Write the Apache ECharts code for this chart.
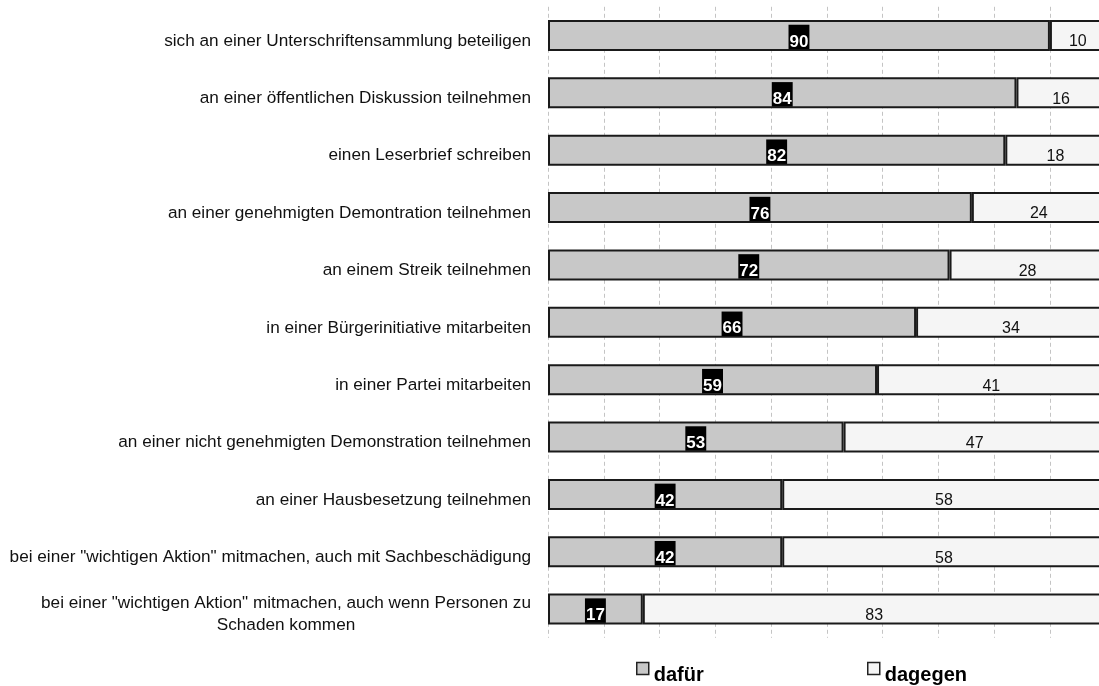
<!DOCTYPE html>
<html>
<head>
<meta charset="utf-8">
<script src="https://cdn.jsdelivr.net/npm/echarts@6/dist/echarts.min.js"></script>
<style>
  html, body { margin: 0; padding: 0; background: #fff; }
  #chart { width: 1099px; height: 686px; }
</style>
</head>
<body>
<div id="chart"></div>
<script>
// Formen politischer Beteiligung: Zustimmung vs. Ablehnung (in Prozent)
const categories = [
  'sich an einer Unterschriftensammlung beteiligen',
  'an einer öffentlichen Diskussion teilnehmen',
  'einen Leserbrief schreiben',
  'an einer genehmigten Demontration teilnehmen',
  'an einem Streik teilnehmen',
  'in einer Bürgerinitiative mitarbeiten',
  'in einer Partei mitarbeiten',
  'an einer nicht genehmigten Demonstration teilnehmen',
  'an einer Hausbesetzung teilnehmen',
  'bei einer "wichtigen Aktion" mitmachen, auch mit Sachbeschädigung',
  'bei einer "wichtigen Aktion" mitmachen, auch wenn Personen zu\nSchaden kommen'
];
const dafuer = [90, 84, 82, 76, 72, 66, 59, 53, 42, 42, 17];
const dagegen = [10, 16, 18, 24, 28, 34, 41, 47, 58, 58, 83];
const seriesNames = ['dafür', 'dagegen'];

const FONT = '"Liberation Sans", Arial, Helvetica, sans-serif';
const CAT_SIZE = 17.2;

// width of the longest line of a wrapped category, so its lines can be centred
const measureCtx = document.createElement('canvas').getContext('2d');
measureCtx.font = CAT_SIZE + 'px ' + FONT;
function lineWidth(s) { return Math.ceil(measureCtx.measureText(s).width); }
const wrapWidth = Math.max.apply(null, categories
  .filter(c => c.indexOf('\n') >= 0)
  .map(c => Math.max.apply(null, c.split('\n').map(lineWidth))).concat([0]));

const chart = echarts.init(document.getElementById('chart'), null, { renderer: 'canvas' });

// legend text sits a little below its square marker
const legendBase = {
  top: 652, icon: 'rect', itemWidth: 12, itemHeight: 12, itemGap: 5, padding: 0,
  itemStyle: { borderWidth: 1.5, borderColor: '#222' },
  formatter: '{t|{name}}',
  textStyle: {
    rich: { t: { fontFamily: FONT, fontSize: 20, fontWeight: 'bold', color: '#000', lineHeight: 20, padding: [13, 0, 0, 0] } }
  }
};

// category text is set slightly below the bar's centre line
const catText = { fontSize: CAT_SIZE, fontFamily: FONT, color: '#111', lineHeight: 22, padding: [11, 0, 0, 0] };

chart.setOption({
  animation: false,
  textStyle: { fontFamily: FONT },
  grid: { left: 548, top: 6.8, width: 557.7, height: 631, containLabel: false, outerBoundsMode: 'none' },
  legend: [
    Object.assign({ data: [seriesNames[0]], left: 636 }, legendBase),
    Object.assign({ data: [seriesNames[1]], left: 867 }, legendBase)
  ],
  xAxis: {
    type: 'value', min: 0, max: 100, interval: 10,
    axisLine: { show: false }, axisTick: { show: false }, axisLabel: { show: false },
    splitLine: { show: true, lineStyle: { type: [4, 3], color: '#c4c4c4', width: 1 } }
  },
  yAxis: {
    type: 'category', inverse: true, data: categories,
    axisLine: { show: false }, axisTick: { show: false },
    axisLabel: {
      margin: 17, fontSize: CAT_SIZE, color: '#111', fontFamily: FONT, lineHeight: 22,
      formatter: function (v) {
        if (v.indexOf('\n') < 0) return '{c|' + v + '}';
        return v.split('\n').map(l => '{w|' + l + '}').join('\n');
      },
      rich: {
        c: Object.assign({}, catText),
        w: Object.assign({ width: wrapWidth, align: 'center' }, catText)
      }
    }
  },
  series: [
    {
      name: seriesNames[0], type: 'bar', stack: 'total', data: dafuer, barWidth: 31,
      itemStyle: { color: '#c8c8c8', borderColor: '#1a1a1a', borderWidth: 2 },
      label: {
        show: true, position: 'inside', offset: [0, 1.5],
        formatter: '{v|{c}}',
        rich: {
          v: {
            color: '#fff', fontWeight: 'bold', fontSize: 17, fontFamily: FONT,
            backgroundColor: '#000', padding: [10, 1, 0, 1], lineHeight: 15, height: 14.5
          }
        }
      }
    },
    {
      name: seriesNames[1], type: 'bar', stack: 'total', data: dagegen, barWidth: 31,
      itemStyle: { color: '#f5f5f5', borderColor: '#1a1a1a', borderWidth: 2 },
      label: {
        show: true, position: 'inside', color: '#111', fontSize: 16,
        fontFamily: FONT, offset: [0, 6.5]
      }
    }
  ]
});
</script>
</body>
</html>
